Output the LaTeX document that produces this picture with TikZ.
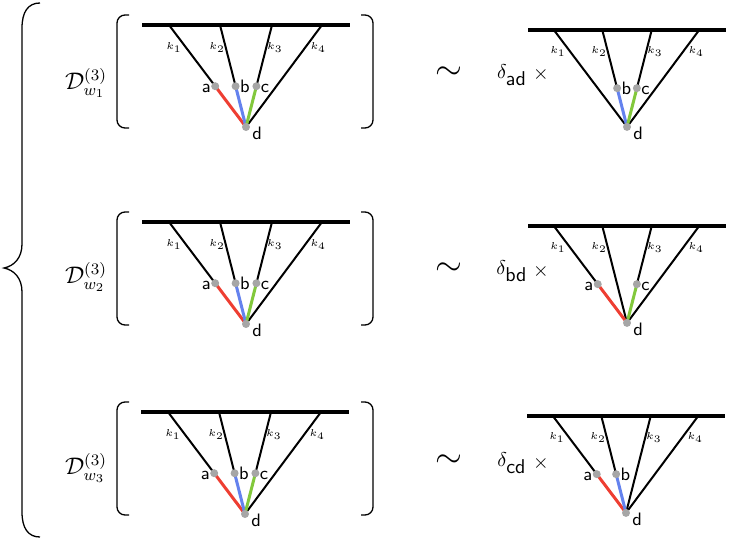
\documentclass[tikz,border=0pt]{standalone}
\usetikzlibrary{calc}

\definecolor{rod}{RGB}{238,62,50}
\definecolor{bla}{RGB}{100,130,238}
\definecolor{gronn}{RGB}{130,200,60}

\tikzset{
  topp/.style={line width=1.6pt},
  bein/.style={line width=1pt},
  farget/.style={line width=1.5pt},
  punkt/.style={circle, fill=gray!70, inner sep=0pt, minimum size=4pt},
  etikett/.style={font=\sffamily\small, inner sep=2pt, text height=1.5ex, text depth=0pt},
  klapp/.style={font=\tiny, inner sep=0pt},
  parentes/.style={line width=0.65pt, rounded corners=4pt},
}

% #1 navn, #2 x, #3 y, #4 skala, #5 hjoerner (bein/navn/farge/side), #6 rette bein
\newcommand{\tregraf}[6]{%
  \begin{scope}[shift={(#2,#3)}, scale=#4]
    % Toppkant og bein
    \coordinate (#1-v) at (-104,0);
    \coordinate (#1-h) at (104,0);
    \coordinate (#1-k1) at (-77,0);
    \coordinate (#1-k2) at (-26,0);
    \coordinate (#1-k3) at (26,0);
    \coordinate (#1-k4) at (76,0);
    \coordinate (#1-d) at (0,102);
    \draw[topp] (#1-v) -- (#1-h);
    \foreach \i in {#6}
      \draw[bein] (#1-k\i) -- (#1-d);
    \foreach \i/\nm/\farge/\side in {#5} {
      \coordinate (#1-\nm) at ($(#1-k\i)!0.6!(#1-d)$);
      \draw[bein] (#1-k\i) -- (#1-\nm);
      \draw[farget, \farge] (#1-\nm) -- (#1-d);
      \node[punkt] (#1-\nm-p) at (#1-\nm) {};
      \node[etikett, \side] (#1-\nm-t) at (#1-\nm) {\nm};
    }
    % Impulser
    \foreach \i/\dx in {1/-6,2/-4.3,3/4.3,4/6.5}
      \node[klapp, xshift=\dx pt] (#1-kl\i) at ($(#1-k\i)!0.22!(#1-d)$) {$k_\i$};
    \node[punkt] (#1-d-p) at (#1-d) {};
    \node[etikett, anchor=west, inner sep=1pt, xshift=2pt, yshift=-3pt] (#1-d-t) at (#1-d) {d};
  \end{scope}}

\begin{document}
\begin{tikzpicture}[x=0.5pt, y=-0.5pt]
  \useasboundingbox (0,0) rectangle (732,540);

  % Stor klamme
  \draw[line width=0.65pt] (40,3) .. controls (28,3) and (22,12) .. (22,28)
    -- (22,244) .. controls (22,258) and (14,266) .. (4,268)
    .. controls (14,270) and (22,278) .. (22,292)
    -- (22,512) .. controls (22,528) and (28,537) .. (40,537);

  % Parenteser rundt venstre grafer
  \foreach \y in {25,222,412} {
    \draw[parentes] (129,\y-10) -- (117,\y-10) -- (117,\y+103) -- (129,\y+103);
    \draw[parentes] (361,\y-10) -- (373,\y-10) -- (373,\y+103) -- (361,\y+103);
  }

  % Grafer
  \tregraf{L1}{246}{25}{1}{1/a/rod/left, 2/b/bla/right, 3/c/gronn/right}{4}
  \tregraf{R1}{627}{30}{0.95}{2/b/bla/right, 3/c/gronn/right}{1,4}
  \tregraf{L2}{246}{222}{1}{1/a/rod/left, 2/b/bla/right, 3/c/gronn/right}{4}
  \tregraf{R2}{627}{226}{0.95}{1/a/rod/left, 3/c/gronn/right}{2,4}
  \tregraf{L3}{245}{412}{1}{1/a/rod/left, 2/b/bla/right, 3/c/gronn/right}{4}
  \tregraf{R3}{626}{416}{0.95}{1/a/rod/left, 2/b/bla/right}{3,4}

  % Tekst
  \foreach \r/\yd/\ys/\nm in {1/83/75/ad, 2/277/271/bd, 3/468/463/cd} {
    \node[font=\large] (D\r) at (86,\yd) {$\mathcal{D}^{(3)}_{w_\r}$};
    \node[font=\LARGE] (sim\r) at (449,\ys-2) {$\sim$};
    \node (delta\r) at (512,\ys) {$\delta_{\textsf{\nm}}$};
    \node (ganger\r) at (541,\ys) {$\times$};
  }
\end{tikzpicture}
\end{document}
